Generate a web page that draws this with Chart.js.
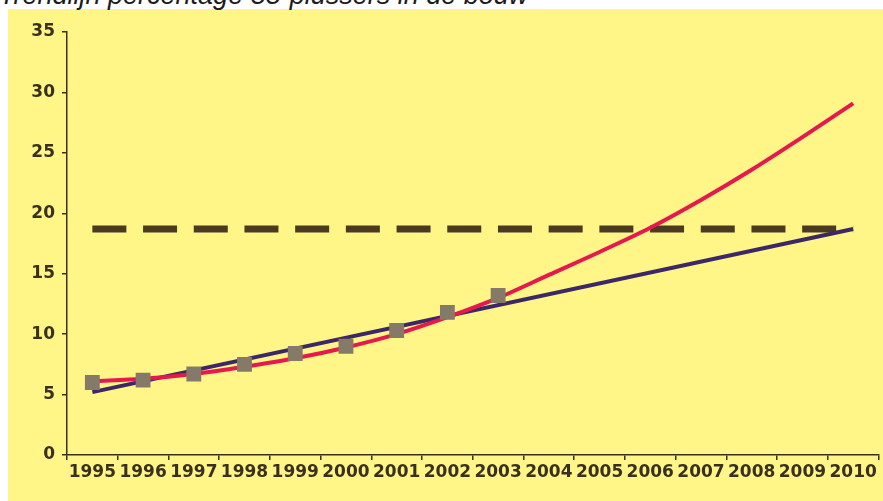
<!DOCTYPE html>
<html>
<head>
<meta charset="utf-8">
<script src="https://cdn.jsdelivr.net/npm/chart.js@4"></script>
<style>
  html, body { margin: 0; padding: 0; background: #ffffff; overflow: hidden; }
  #wrap { position: relative; width: 883px; height: 501px; overflow: hidden; }
  #panel { position: absolute; left: 8px; top: 9px; width: 875px; height: 492px; background: #fff687; }
  #title { position: absolute; left: -1px; top: -20px; font-family: "Liberation Sans", Arial, sans-serif; font-style: italic; font-size: 27px; color: #1c1c1c; white-space: nowrap; line-height: 30px; }
  #c { position: absolute; left: 0; top: 0; }
</style>
</head>
<body>
<div id="wrap">
  <div id="panel"></div>
  <div id="title">Trendlijn percentage 55-plussers in de bouw</div>
  <canvas id="c" width="889" height="501"></canvas>
</div>
<script>
const years = ['1995','1996','1997','1998','1999','2000','2001','2002','2003','2004','2005','2006','2007','2008','2009','2010'];
const measured = [6.0, 6.2, 6.7, 7.5, 8.4, 9.0, 10.3, 11.8, 13.2, null, null, null, null, null, null, null];
const curveTrend = [6.1, 6.3, 6.7, 7.3, 8.0, 8.9, 10.0, 11.4, 13.0, 14.9, 16.8, 18.8, 21.1, 23.6, 26.3, 29.1];
const linearTrend = [5.2, null, null, null, null, null, null, null, null, null, null, null, null, null, null, 18.7];
const targetLevel = [18.7, null, null, null, null, null, null, null, null, null, null, null, null, null, null, 18.7];
const yTicks = [0, 5, 10, 15, 20, 25, 30, 35];

const axisColor = '#3a3020';
const tickFont = { family: '"DejaVu Sans", Verdana, sans-serif', size: 17, weight: 'bold' };

new Chart(document.getElementById('c'), {
  type: 'line',
  data: {
    labels: years,
    datasets: [
      { label: 'Meting', data: measured, showLine: false, pointStyle: 'rect', pointRadius: 10.5,
        pointBackgroundColor: '#857a68', pointBorderWidth: 0, borderColor: '#857a68', order: 0 },
      { label: 'Trend (kromme)', data: curveTrend, borderColor: '#e5194e', borderWidth: 4,
        pointRadius: 0, cubicInterpolationMode: 'monotone', fill: false, order: 1 },
      { label: 'Trend (lineair)', data: linearTrend, borderColor: '#3c2866', borderWidth: 4,
        pointRadius: 0, spanGaps: true, fill: false, order: 2 },
      { label: 'Niveau', data: targetLevel, borderColor: '#4a3a22', borderWidth: 7,
        borderDash: [34, 16.7], borderCapStyle: 'butt', pointRadius: 0, spanGaps: true, fill: false, order: 3 }
    ]
  },
  options: {
    responsive: false,
    animation: false,
    events: [],
    layout: { padding: { top: 32, right: 0, bottom: 0, left: 0 } },
    plugins: { legend: { display: false }, tooltip: { enabled: false }, title: { display: false } },
    scales: {
      x: {
        type: 'category',
        offset: true,
        grid: { display: true, offset: true, drawOnChartArea: false, drawTicks: true, tickLength: 5, color: axisColor, lineWidth: 1.5 },
        border: { display: true, color: axisColor, width: 1.5 },
        ticks: { color: axisColor, font: tickFont, padding: 2, maxRotation: 0, autoSkip: false },
        afterFit: (s) => { s.height = 46; s.paddingRight = 0; s.paddingLeft = 0; }
      },
      y: {
        min: 0, max: 35,
        afterBuildTicks: (s) => { s.ticks = yTicks.map(v => ({ value: v })); },
        grid: { display: true, drawOnChartArea: false, drawTicks: true, tickLength: 5, color: axisColor, lineWidth: 1.5 },
        border: { display: true, color: axisColor, width: 1.5 },
        ticks: { color: axisColor, font: tickFont, padding: 7 },
        afterFit: (s) => { s.width = 67; s.paddingTop = 0; s.paddingBottom = 0; }
      }
    }
  }
});
</script>
</body>
</html>
